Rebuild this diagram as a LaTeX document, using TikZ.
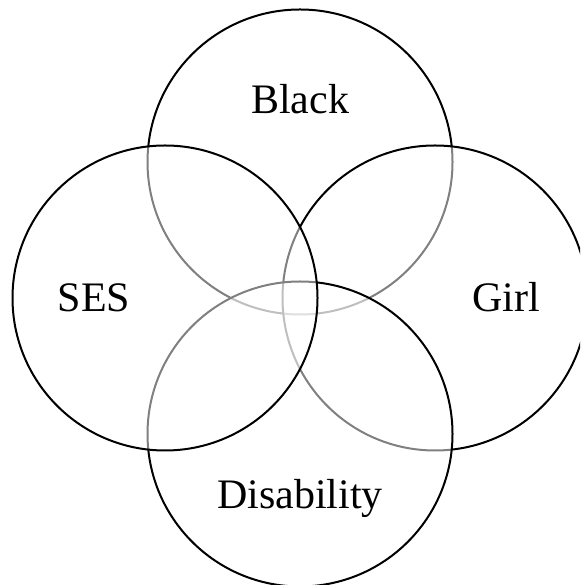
\documentclass[tikz,border=0pt]{standalone}
\usepackage{fontspec}
\setmainfont{Liberation Serif}
\usepackage{tikz}
\usetikzlibrary{positioning}
\tikzset{set/.style={circle,draw=black,line width=2pt,fill=white,fill opacity=0.5,
    inner sep=0pt,outer sep=0pt,minimum size=305pt},
  lbl/.style={inner sep=0pt,anchor=base,font=\fontsize{42}{50}\selectfont}}

\begin{document}
\begin{tikzpicture}[x=1pt,y=1pt,node distance=136pt and 135pt,on grid]
   \clip (0,0) rectangle (580,585);
   \node[set] (black) at (300,423) {};
   \node[set] (girl) [below right=of black] {};
   \node[set] (disab) [below left=of girl] {};
   \node[set] (ses) [above left=of disab] {};
   % labels
   \node[lbl] (blacktxt) at ([shift={(0,48.7)}]black.center) {Black};
   \node[lbl] (girltxt) at ([shift={(71,-14)}]girl.center) {Girl};
   \node[lbl] (disabtxt) at ([shift={(0,-75)}]disab.center) {Disability};
   \node[lbl] (sestxt) at ([shift={(-71,-13.7)}]ses.center) {SES};
\end{tikzpicture}
\end{document}
